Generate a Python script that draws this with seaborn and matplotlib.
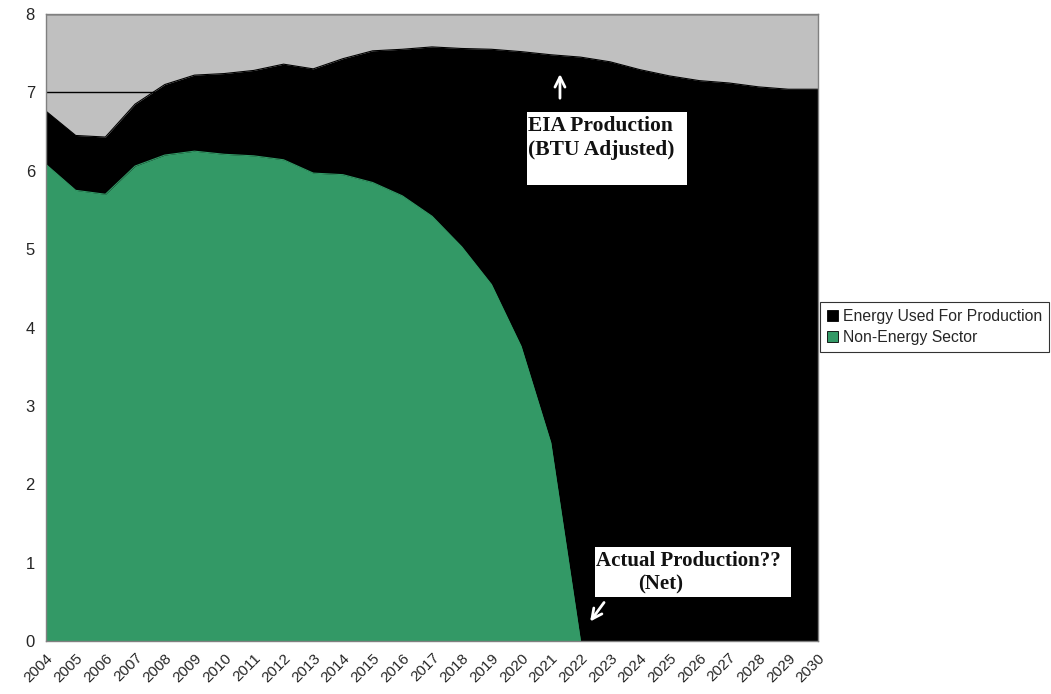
import numpy as np
import pandas as pd
import matplotlib
matplotlib.use("Agg")
import matplotlib.pyplot as plt
from matplotlib.patches import Patch, Rectangle
import seaborn as sns

years = list(range(2004, 2031))
eia_total = [6.76, 6.45, 6.43, 6.85, 7.10, 7.22, 7.24, 7.28, 7.36, 7.30, 7.43, 7.53, 7.55,
             7.58, 7.56, 7.55, 7.52, 7.48, 7.45, 7.39, 7.29, 7.21, 7.15, 7.12, 7.07, 7.04, 7.04]
non_energy = [6.08, 5.75, 5.70, 6.06, 6.20, 6.25, 6.21, 6.19, 6.14, 5.97, 5.95, 5.85, 5.68,
              5.42, 5.03, 4.55, 3.76, 2.53, 0.0, 0.0, 0.0, 0.0, 0.0, 0.0, 0.0, 0.0, 0.0]
series_names = ["Energy Used For Production", "Non-Energy Sector"]
colors = ["#000000", "#339966"]

df = pd.DataFrame({"year": years, "total": eia_total, "green": non_energy})

sns.set_style("white")
plt.rcParams['font.family'] = ['Liberation Sans', 'DejaVu Sans']

fig = plt.figure(figsize=(10.51, 6.94), dpi=100)
ax = fig.add_axes([46/1051, 53/694, (818-46)/1051, (641-14)/694])
ax.set_facecolor("#C0C0C0")

# gridlines beneath areas
for v in range(0, 9):
    ax.axhline(v, color="black", lw=1.0, zorder=0.5)

ax.fill_between(df["year"], 0, df["total"], color=colors[0], lw=0, zorder=1)
ax.fill_between(df["year"], 0, df["green"], color=colors[1], lw=0, zorder=2)
sns.lineplot(data=df, x="year", y="total", color=colors[0], lw=0.8, ax=ax, zorder=1.5)
sns.lineplot(data=df[df["year"] <= 2022], x="year", y="green", color=colors[1], lw=0.8, ax=ax, zorder=2.5)

ax.set_xlim(2004, 2030)
ax.set_ylim(0, 8)
ax.set_xlabel("")
ax.set_ylabel("")
ax.set_xticks(years)
ax.set_xticklabels([str(y) for y in years], rotation=45, ha="right", rotation_mode="anchor", fontsize=11)
ax.set_yticks(range(0, 9))
ax.set_yticklabels([str(v) for v in range(0, 9)], fontsize=12)
ax.tick_params(axis="both", direction="out", length=5, width=1, color="#808080", pad=3)
ax.tick_params(axis="x", pad=2)
for s in ax.spines.values():
    s.set_color("#808080")
    s.set_linewidth(1)
    s.set_zorder(5)

# annotation boxes
ax.add_patch(Rectangle((2020.2, 5.82), 5.39, 0.93, facecolor="white", edgecolor="none", zorder=6))
ax.text(2020.25, 6.70, "EIA Production\n(BTU Adjusted)", fontfamily="Liberation Serif",
        fontweight="bold", fontsize=15.5, color="#111111", ha="left", va="top", zorder=7,
        linespacing=1.3)
ax.annotate("", xy=(2021.31, 7.27), xytext=(2021.31, 6.89),
            arrowprops=dict(arrowstyle="->", color="white", lw=2, mutation_scale=18), zorder=7)

ax.add_patch(Rectangle((2022.49, 0.565), 6.59, 0.63, facecolor="white", edgecolor="none", zorder=6))
ax.text(2022.51, 1.15, "Actual Production??", fontfamily="Liberation Serif",
        fontweight="bold", fontsize=15, color="#111111", ha="left", va="top", zorder=7)
ax.text(2023.93, 0.85, "(Net)", fontfamily="Liberation Serif",
        fontweight="bold", fontsize=15, color="#111111", ha="left", va="top", zorder=7)
ax.annotate("", xy=(2022.27, 0.22), xytext=(2022.85, 0.52),
            arrowprops=dict(arrowstyle="->", color="white", lw=2, mutation_scale=18), zorder=7)

handles = [Patch(facecolor=c, edgecolor="black", lw=0.6) for c in colors]
leg = fig.legend(handles, series_names, loc="upper left", bbox_to_anchor=(820/1051, 1 - 302/694),
                 fontsize=11.3, frameon=True, fancybox=False, edgecolor="black",
                 handlelength=0.7, handleheight=0.7, handletextpad=0.3, borderpad=0.45,
                 labelspacing=0.35, borderaxespad=0)
leg.get_frame().set_linewidth(0.8)

fig.savefig("out.png", dpi=100)
